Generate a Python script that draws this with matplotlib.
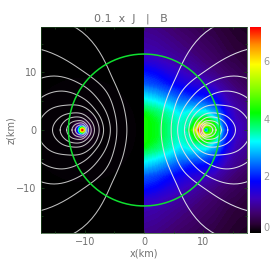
import numpy as np
import matplotlib
matplotlib.use('Agg')
import matplotlib.pyplot as plt
from matplotlib.colors import LinearSegmentedColormap

TEXT = '#707070'
TICK = '#1d4a1d'
VMAX = 7.2

# colour bar stops (value, colour)
cbar_values = [0.0, 0.3, 0.7, 1.2, 1.8, 2.3, 3.2, 3.6, 4.2, 5.0, 5.9, 6.6, 7.2]
cbar_colors = ['#000000', '#2a0035', '#400070', '#3c00c0', '#0000ff', '#0058ff', '#00ffff',
               '#00ff90', '#00ff00', '#80ff00', '#ffff00', '#ff8c00', '#ff0000']

# right half: J on a grid (upper half, mirrored in z)
x_right = [0, 2, 4, 6, 8, 10, 12, 14, 15.5, 17.5]
z_right = [0, 1, 2, 3, 4, 6, 8, 10, 12, 14, 18]
j_right = [
    [4.3, 4.1, 3.7, 3.4, 3.6, 3.6, 3.6, 1.9, 1.3, 1.0],
    [4.3, 4.1, 3.7, 3.4, 3.6, 3.6, 3.5, 1.9, 1.3, 1.0],
    [4.3, 4.0, 3.6, 3.3, 3.5, 3.6, 3.2, 1.7, 1.2, 0.95],
    [4.1, 3.8, 3.5, 3.1, 3.3, 3.3, 2.8, 1.6, 1.15, 0.9],
    [3.7, 3.5, 3.2, 2.8, 2.8, 2.7, 2.3, 1.4, 1.05, 0.85],
    [3.0, 2.8, 2.5, 2.2, 1.95, 1.85, 1.6, 1.1, 0.9, 0.7],
    [2.3, 2.15, 1.9, 1.65, 1.45, 1.3, 1.1, 0.85, 0.7, 0.55],
    [1.9, 1.75, 1.5, 1.3, 1.1, 0.95, 0.8, 0.65, 0.55, 0.45],
    [1.4, 1.3, 1.15, 1.0, 0.9, 0.75, 0.65, 0.5, 0.45, 0.35],
    [1.1, 1.05, 0.95, 0.85, 0.75, 0.65, 0.55, 0.42, 0.35, 0.3],
    [0.85, 0.8, 0.72, 0.62, 0.55, 0.46, 0.38, 0.3, 0.25, 0.2],
]

# ring on the right: J around its centre, by distance and angle (0 = outward)
ring_x = 10.45
ring_r = [0, 0.3, 0.6, 0.9, 1.2, 1.6, 2.0, 2.6, 3.2, 3.5]
ring_angles = [0, 45, 90, 135, 180]
ring_j = [
    [1.5, 3.0, 4.2, 4.6, 4.6, 4.4, 4.1, 3.0, 2.2, 1.9],
    [1.5, 2.8, 4.1, 4.7, 4.7, 4.4, 4.0, 3.2, 2.6, 2.4],
    [1.5, 3.0, 4.6, 5.6, 5.0, 4.5, 4.2, 3.5, 3.2, 3.1],
    [1.5, 3.2, 5.6, 6.6, 6.0, 5.2, 4.5, 3.9, 3.5, 3.4],
    [1.5, 3.4, 6.8, 7.2, 6.8, 6.0, 5.0, 4.2, 3.6, 3.3],
]

# left half: radial profile of the spot at the same distance from the axis
spot_x = -10.45
spot_r = [0, 0.25, 0.45, 0.6, 0.8, 1.0, 1.3, 2.0, 4.0, 9.0]
spot_j = [7.2, 6.0, 4.3, 3.0, 1.8, 1.0, 0.4, 0.1, 0.03, 0.0]

# star surface
star_rx = 12.8
star_rz = 13.2

# field lines: distance from the ring centre at each angle (0 = outward, 180 = to the axis)
line_a = [60, 40, 24, 17, 10.3, 8.1, 7.55]
line_b = [30, 25, 16.5, 10.3, 7.9, 6.3, 5.85]
line_c = [13, 12.5, 10.8, 7.8, 5.8, 4.95, 4.75]
line_d = [9.6, 9.3, 7.8, 5.6, 4.2, 3.7, 3.6]
line_e = [7.6, 6.7, 5.0, 4.1, 3.35, 2.95, 2.85]
line_f = [5.05, 4.4, 3.4, 2.8, 2.3, 2.1, 2.05]
line_g = [3.75, 3.3, 2.6, 2.1, 1.7, 1.55, 1.5]
line_h = [2.65, 2.35, 1.85, 1.55, 1.25, 1.1, 1.05]
line_i = [1.75, 1.6, 1.35, 1.2, 0.95, 0.85, 0.8]
line_j = [1.2, 1.1, 0.95, 0.85, 0.65, 0.6, 0.55]
field_lines = [line_a, line_b, line_c, line_d, line_e, line_f, line_g, line_h, line_i, line_j]

x_ticks = [-10, 0, 10]
z_ticks = [-10, 0, 10]
cbar_ticks = [0, 2, 4, 6]


def loop_xy(radii, n=10):
    # smooth the read radii (Catmull-Rom in log r), closed by mirroring in z
    r = np.log(np.array(radii, dtype=float))
    r = np.concatenate([r, r[-2:0:-1]])
    t = np.linspace(0, 1, n, endpoint=False)
    out = []
    for i in range(len(r)):
        a, b, c, d = r[i - 1], r[i], r[(i + 1) % len(r)], r[(i + 2) % len(r)]
        out.append(0.5 * (2 * b + (c - a) * t + (2 * a - 5 * b + 4 * c - d) * t ** 2
                          + (3 * b - a - 3 * c + d) * t ** 3))
    rr = np.exp(np.concatenate(out + [out[0][:1]]))
    th = np.radians(np.linspace(0, 360, len(rr)))
    return ring_x + rr * np.cos(th), rr * np.sin(th)


cmap = LinearSegmentedColormap.from_list(
    'bar', [(v / VMAX, c) for v, c in zip(cbar_values, cbar_colors)], N=256)
levels = np.linspace(0, VMAX, 120)

fig = plt.figure(figsize=(2.74, 2.74), dpi=100, facecolor='white')
ax = fig.add_axes([41 / 274, 1 - 233 / 274, 206 / 274, 206 / 274], facecolor='black')

# right half
z_full = np.array([-z for z in z_right[:0:-1]] + z_right)
j_arr = np.array(j_right)
ax.contourf(x_right, z_full, np.vstack([j_arr[:0:-1], j_arr]), levels=levels, cmap=cmap,
            extend='both', antialiased=False)

# ring, on its own polar grid
ang = np.array(ring_angles + [360 - a for a in ring_angles[-2::-1]])
rj = np.array(ring_j)
rj = np.vstack([rj, rj[-2::-1]])
rr, tt = np.meshgrid(ring_r, np.radians(ang))
ax.contourf(ring_x + rr * np.cos(tt), rr * np.sin(tt), rj, levels=levels, cmap=cmap,
            extend='both', antialiased=False)

# left half
theta = np.linspace(0, 2 * np.pi, 73)
rr, tt = np.meshgrid(spot_r, theta)
ax.contourf(spot_x + rr * np.cos(tt), rr * np.sin(tt), np.tile(spot_j, (len(theta), 1)),
            levels=levels, cmap=cmap, extend='both', antialiased=False)

for radii in field_lines:
    lx, lz = loop_xy(radii)
    ax.plot(lx, lz, color='#dcdce8', lw=0.75)
    ax.plot(-lx, lz, color='#c0c0c0', lw=0.75)

phi = np.linspace(0, 2 * np.pi, 200)
ax.plot(star_rx * np.cos(phi), star_rz * np.sin(phi), color='#10e030', lw=1.1)

ax.set_xlim(-17.45, 17.45)
ax.set_ylim(-17.9, 17.9)
ax.set_xticks(x_ticks)
ax.set_yticks(z_ticks)
ax.set_xticks(np.arange(-15, 16, 5), minor=True)
ax.set_yticks(np.arange(-15, 16, 5), minor=True)
ax.tick_params(which='both', direction='in', color=TICK, labelcolor=TEXT, labelsize=7, pad=3,
               top=True, right=True, width=0.5)
ax.tick_params(which='major', length=2.5)
ax.tick_params(which='minor', length=1.2)
for s in ax.spines.values():
    s.set_color(TICK)
    s.set_linewidth(0.5)
ax.set_xlabel('x(km)', color=TEXT, fontsize=7, labelpad=1)
ax.set_ylabel('z(km)', color=TEXT, fontsize=7, labelpad=0)
fig.text(131 / 274, 1 - 19 / 274, '0.1  x  J   |   B', color=TEXT, fontsize=8, ha='center', va='center')

# colour bar
cax = fig.add_axes([249.5 / 274, 1 - 233 / 274, 11 / 274, 206 / 274])
cax.imshow(np.linspace(0, VMAX, 256)[:, None], origin='lower', aspect='auto', cmap=cmap,
           extent=[0, 1, 0, VMAX], vmin=0, vmax=VMAX)
cax.set_xticks([])
cax.yaxis.tick_right()
cax.set_yticks(cbar_ticks)
cax.tick_params(length=0, labelcolor='#999999', labelsize=7, pad=2)
cax.get_yticklabels()[0].set_verticalalignment('bottom')
for s in cax.spines.values():
    s.set_visible(False)

fig.savefig('out.png', dpi=100)
